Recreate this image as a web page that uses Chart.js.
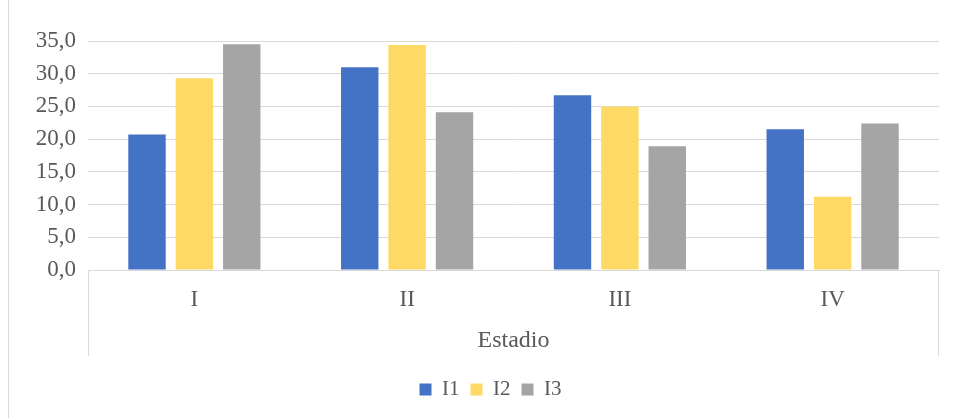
<!DOCTYPE html>
<html>
<head>
<meta charset="utf-8">
<script src="https://cdn.jsdelivr.net/npm/chart.js@4/dist/chart.umd.min.js"></script>
<style>
  html, body { margin: 0; padding: 0; background: #fff; }
  #chart { display: block; }
</style>
</head>
<body>
<canvas id="chart" width="955" height="418"></canvas>
<script>
// Stage categories and the three index series
const estadios = ['I', 'II', 'III', 'IV'];
const serieI1 = [20.7, 31.0, 26.7, 21.5];
const serieI2 = [29.3, 34.4, 25.0, 11.2];
const serieI3 = [34.5, 24.1, 18.9, 22.4];

const FONT = 'Liberation Serif, Times New Roman, serif';
const TEXT = '#595959';
const LINE = '#d9d9d9';

// Frame lines of the two-level category axis plus the outer border on the left
const axisFrame = {
  id: 'axisFrame',
  afterLayout(chart) {
    // nudge the legend so it sits centred under the plot rather than the canvas
    if (chart.legend) {
      chart.legend.left += 17;
      chart.legend.right += 17;
    }
  },
  afterDraw(chart) {
    const { ctx, chartArea } = chart;
    ctx.save();
    ctx.strokeStyle = LINE;
    ctx.lineWidth = 1;
    ctx.beginPath();
    const l = Math.round(chartArea.left) + 0.5;
    const r = Math.round(chartArea.right) - 0.5;
    ctx.moveTo(l, chartArea.bottom);
    ctx.lineTo(l, 356);
    ctx.moveTo(r, chartArea.bottom);
    ctx.lineTo(r, 356);
    ctx.moveTo(8.5, 0);
    ctx.lineTo(8.5, 418);
    ctx.stroke();
    ctx.restore();
  },
};

new Chart(document.getElementById('chart'), {
  type: 'bar',
  data: {
    labels: estadios,
    datasets: [
      { label: 'I1', data: serieI1, backgroundColor: '#4472C4' },
      { label: 'I2', data: serieI2, backgroundColor: '#FFD966' },
      { label: 'I3', data: serieI3, backgroundColor: '#A5A5A5' },
    ],
  },
  options: {
    responsive: false,
    animation: false,
    layout: { padding: { top: 41, right: 16, left: 8, bottom: 8 } },
    datasets: { bar: { categoryPercentage: 0.668, barPercentage: 0.79 } },
    scales: {
      x: {
        grid: { display: false, drawTicks: false },
        border: { display: true, color: LINE },
        ticks: { color: TEXT, font: { family: FONT, size: 23 }, padding: 16 },
        title: {
          display: true, text: 'Estadio', color: TEXT,
          font: { family: FONT, size: 24 }, padding: { top: 16, bottom: 13 },
        },
        afterFit(scale) { scale.height = 98; },
      },
      y: {
        min: 0, max: 35,
        grid: { color: LINE, drawTicks: false },
        border: { display: false },
        ticks: {
          stepSize: 5, color: TEXT, padding: 12,
          font: { family: FONT, size: 23 },
          callback: (v) => v.toFixed(1).replace('.', ','),
        },
        afterFit(scale) { scale.width = 80; },
      },
    },
    plugins: {
      legend: {
        position: 'bottom',
        labels: {
          color: TEXT, boxWidth: 12, boxHeight: 12, padding: 11,
          font: { family: FONT, size: 21 },
        },
      },
      tooltip: { enabled: false },
    },
  },
  plugins: [axisFrame],
});
</script>
</body>
</html>
